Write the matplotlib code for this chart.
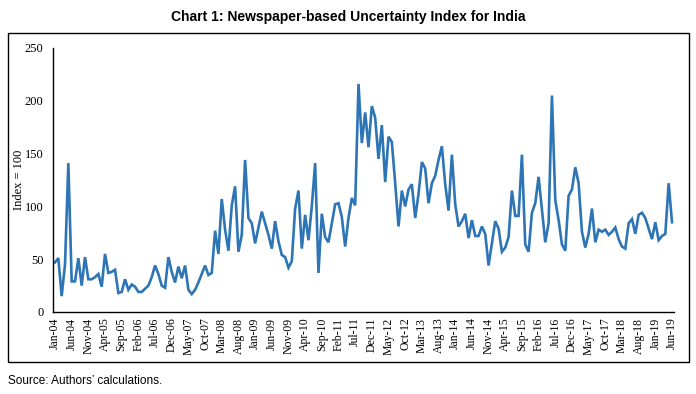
import numpy as np
import pandas as pd
import matplotlib
matplotlib.use('Agg')
import matplotlib.pyplot as plt
from matplotlib.patches import Rectangle

# Monthly index values, Jan-2004 .. Jun-2019
START_MONTH = '2004-01'
END_MONTH = '2019-06'
idx_2004_06 = [47, 51, 15, 45, 141, 29, 29, 51, 25, 52, 31, 31,
               33, 36, 24, 55, 37, 38, 40, 18, 19, 31, 21, 26,
               24, 19, 19, 22, 25, 33, 44]
idx_2006_09 = [36, 25, 23, 52, 38, 28, 43, 32, 44, 21, 17, 21, 28, 36, 44, 35,
               37, 77, 55, 107, 78, 58, 101, 119, 57, 73, 144, 89, 84, 65, 80]
idx_2009_11 = [95, 84, 73, 60, 86, 67, 54, 52, 42, 48, 98, 115, 60, 92, 68,
               100, 141, 37, 93, 71, 66, 84, 102, 103, 90, 62, 89, 108, 101]
idx_2011_14 = [216, 160, 189, 156, 195, 184, 145, 177, 123, 166,
               161, 122, 81, 115, 100, 116, 121, 89, 112, 142,
               136, 103, 122, 129, 144, 157, 121, 96, 149, 102,
               81, 86, 93, 70, 87, 72, 72, 81, 74, 44,
               65, 86, 79]
idx_2015_16 = [57, 61, 71, 115, 91, 91, 149, 64, 57, 94, 103, 128, 97, 66,
               84, 205, 106, 87, 64, 58, 110, 116]
idx_2017_19 = [137, 122, 76, 61, 74, 98, 66, 78, 76, 78, 73, 76, 80, 69, 62,
               60, 84, 88, 74, 92, 94, 89, 79, 69, 85, 68, 72, 74, 122, 85]

index_values = np.array(idx_2004_06 + idx_2006_09 + idx_2009_11 +
                        idx_2011_14 + idx_2015_16 + idx_2017_19, dtype=float)
months = pd.date_range(START_MONTH, END_MONTH, freq='MS')
month_labels = [d.strftime('%b-%y') for d in months]
LABEL_STEP = 5

W, H = 696, 394
fig = plt.figure(figsize=(W / 100, H / 100), dpi=100)

# outer frame of the chart
fig.patches.append(Rectangle((8 / W, 1 - 362 / H), (689 - 8) / W, (362 - 33) / H,
                             transform=fig.transFigure, fill=False,
                             edgecolor='black', linewidth=1.0))

fig.text(0.5, 1 - 17 / H, 'Chart 1: Newspaper-based Uncertainty Index for India',
         ha='center', va='center', fontsize=10, fontweight='bold',
         family='Liberation Sans')
fig.text(8 / W, 1 - 381 / H, 'Source: Authors\u2019 calculations.',
         ha='left', va='center', fontsize=8.5, family='Liberation Sans')

ax = fig.add_axes([53 / W, 1 - 312 / H, (674 - 53) / W, (312 - 48) / H])
x = np.arange(len(index_values))
ax.plot(x, index_values, color='#2E75B6', linewidth=1.9, solid_joinstyle='miter')

ax.set_xlim(-0.6, len(index_values) - 1 + 0.6)
ax.set_ylim(0, 250)
ax.set_yticks(np.arange(0, 251, 50))
ax.set_xticks(x[::LABEL_STEP])
ax.set_xticklabels(month_labels[::LABEL_STEP], rotation=90)

for side in ['top', 'right']:
    ax.spines[side].set_visible(False)
ax.spines['left'].set_linewidth(1.0)
ax.spines['bottom'].set_linewidth(1.0)
ax.tick_params(axis='both', length=0, labelsize=8.5, pad=4)
ax.tick_params(axis='y', labelsize=9, pad=7)
for lab in ax.get_xticklabels() + ax.get_yticklabels():
    lab.set_family('Liberation Serif')

ax.set_ylabel('Index = 100', family='Liberation Serif', fontsize=9)
ax.yaxis.set_label_coords(-0.045, 0.5)

fig.savefig('out.png', dpi=100)
